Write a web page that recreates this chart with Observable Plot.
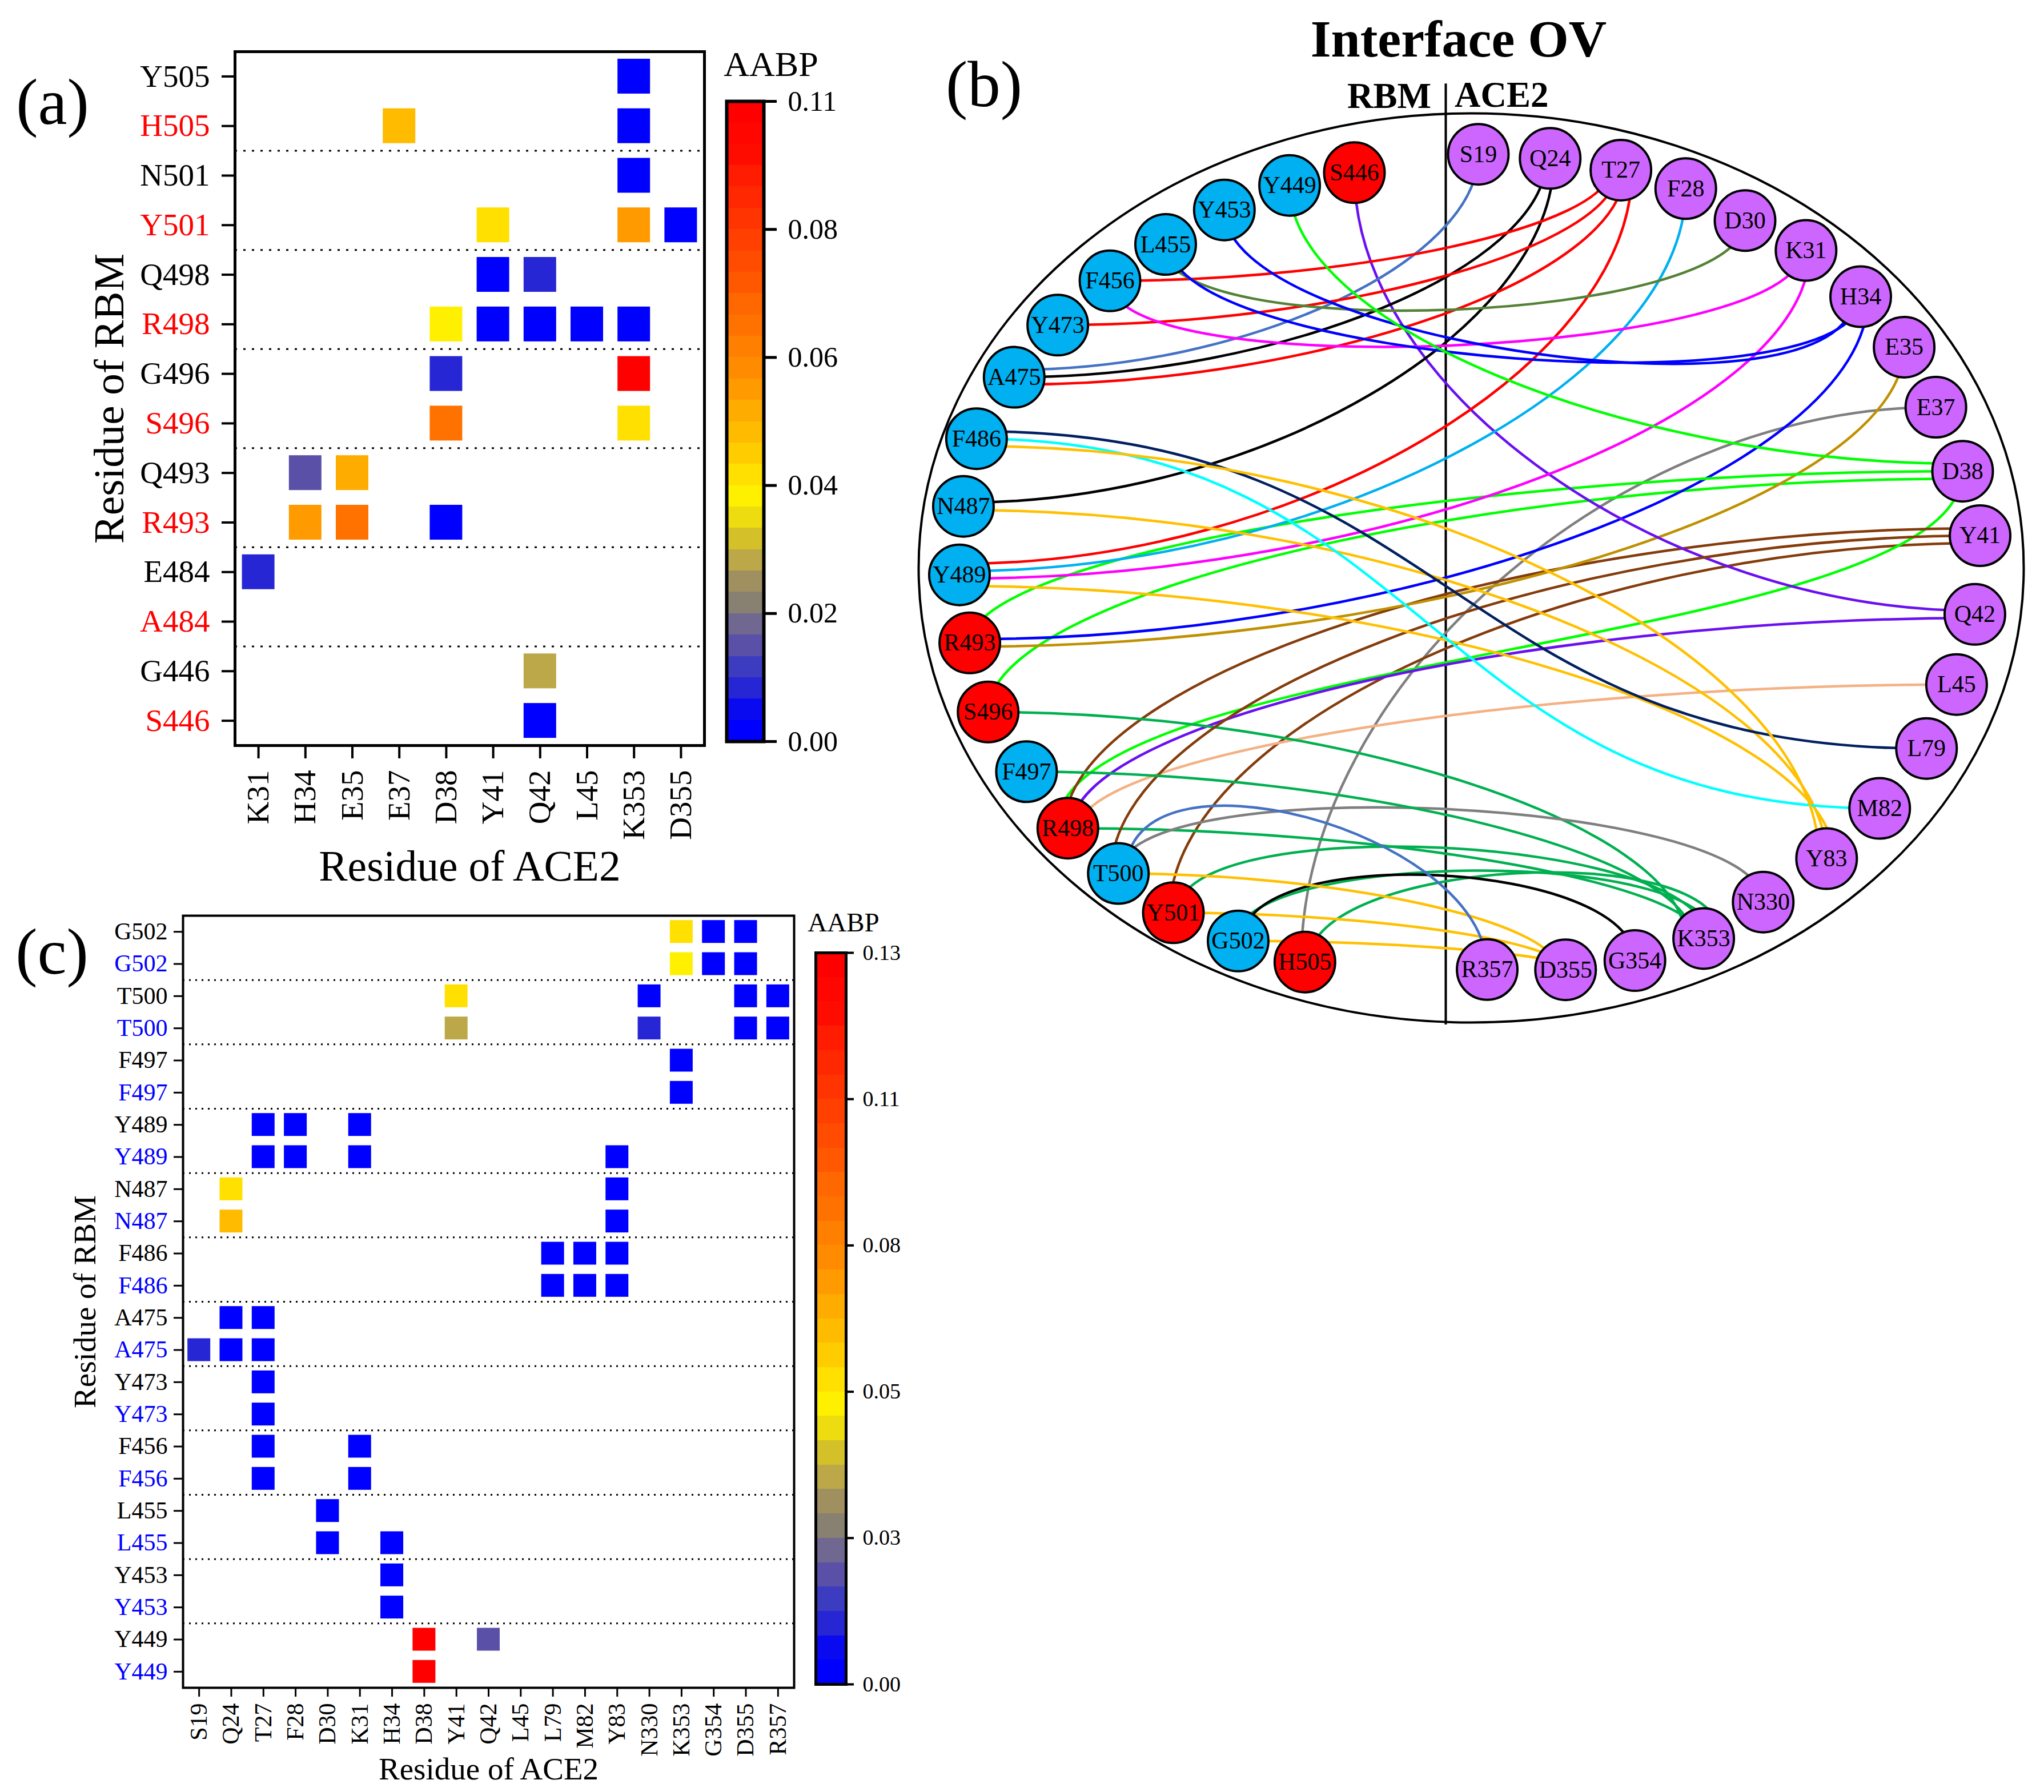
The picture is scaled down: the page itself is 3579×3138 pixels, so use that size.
<!DOCTYPE html>
<html>
<head>
<meta charset="utf-8">
<script src="https://cdn.jsdelivr.net/npm/d3@7"></script>
<script src="https://cdn.jsdelivr.net/npm/@observablehq/plot@0.6"></script>
<style>
html,body{margin:0;padding:0;background:#fff;width:3579px;height:3138px;overflow:hidden}
#page{position:relative;width:3579px;height:3138px;font-family:"Liberation Serif",serif}
.p{position:absolute}
.t{position:absolute;white-space:nowrap;line-height:1;color:#000}
</style>
</head>
<body>
<div id="page"></div>
<script>
// ---------- palette shared by the two heat maps (bottom to top of the colour bar)
const bandColors = ["#0000ff","#0a0af0","#2626d4","#3c3cc0","#5a50a8","#706890","#888070","#a09060","#bca848","#d4c028",
  "#ecdc10","#fff000","#ffe000","#ffcc00","#ffbb00","#ffac00","#ff9a00","#ff8c00","#ff8000","#ff7200",
  "#ff6800","#ff5800","#ff4c00","#ff4000","#ff3400","#ff2800","#ff1c00","#ff0c00","#ff0600","#ff0000"];

// ---------- panel (a)
const colsA = ["K31","H34","E35","E37","D38","Y41","Q42","L45","K353","D355"];
const rowsA = ["Y505","H505","N501","Y501","Q498","R498","G496","S496","Q493","R493","E484","A484","G446","S446"];
const rowsAMutant = ["H505","Y501","R498","S496","R493","A484","S446"];
const rowsAWild = ["Y505","N501","Q498","G496","Q493","E484","G446"];
const sepsA = ["H505","Y501","R498","S496","R493","A484"];
const cellsA = [
  ["Y505","K353",.002],["H505","E37",.053],["H505","K353",.002],["N501","K353",.002],
  ["Y501","Y41",.046],["Y501","K353",.06],["Y501","D355",.002],
  ["Q498","Y41",.002],["Q498","Q42",.009],
  ["R498","D38",.042],["R498","Y41",.002],["R498","Q42",.002],["R498","L45",.002],["R498","K353",.002],
  ["G496","D38",.009],["G496","K353",.108],["S496","D38",.073],["S496","K353",.046],
  ["Q493","H34",.0165],["Q493","E35",.057],["R493","H34",.06],["R493","E35",.071],["R493","D38",.002],
  ["E484","K31",.009],["G446","Q42",.031],["S446","Q42",.002]
];
const maxA = .11;
const barTicksA = [0,.022,.044,.066,.088,.11];
const barLabelsA = ["0.00","0.02","0.04","0.06","0.08","0.11"];

// ---------- panel (c)
const colsC = ["S19","Q24","T27","F28","D30","K31","H34","D38","Y41","Q42","L45","L79","M82","Y83","N330","K353","G354","D355","R357"];
const residuesC = ["G502","T500","F497","Y489","N487","F486","A475","Y473","F456","L455","Y453","Y449"];
const cellsCWild = [
  ["G502","K353",.054],["G502","G354",.002],["G502","D355",.002],
  ["T500","Y41",.054],["T500","N330",.002],["T500","D355",.002],["T500","R357",.002],
  ["F497","K353",.002],
  ["Y489","T27",.002],["Y489","F28",.002],["Y489","K31",.002],
  ["N487","Q24",.054],["N487","Y83",.002],
  ["F486","L79",.002],["F486","M82",.002],["F486","Y83",.002],
  ["A475","Q24",.002],["A475","T27",.002],
  ["Y473","T27",.002],["F456","T27",.002],["F456","K31",.002],
  ["L455","D30",.002],["Y453","H34",.002],["Y449","D38",.128],["Y449","Q42",.02]
];
const cellsCVariant = [
  ["G502","K353",.05],["G502","G354",.002],["G502","D355",.002],
  ["T500","Y41",.037],["T500","N330",.011],["T500","D355",.002],["T500","R357",.002],
  ["F497","K353",.002],
  ["Y489","T27",.002],["Y489","F28",.002],["Y489","K31",.002],["Y489","Y83",.002],
  ["N487","Q24",.063],["N487","Y83",.002],
  ["F486","L79",.002],["F486","M82",.002],["F486","Y83",.002],
  ["A475","S19",.011],["A475","Q24",.002],["A475","T27",.002],
  ["Y473","T27",.002],["F456","T27",.002],["F456","K31",.002],
  ["L455","D30",.002],["L455","H34",.002],["Y453","H34",.002],["Y449","D38",.128]
];
const maxC = .13;
const barTicksC = [0,.026,.052,.078,.104,.13];
const barLabelsC = ["0.00","0.03","0.05","0.08","0.11","0.13"];

// ---------- panel (b): where each residue sits around the ring (degrees and radial factor)
const rbmNames  = ["S446","Y449","Y453","L455","F456","Y473","A475","F486","N487","Y489","R493","S496","F497","R498","T500","Y501","G502","H505"];
const rbmAngles = [103.5,111.1,119.3,127.6,135.8,144.4,153.2,162.7,172.2,181.8,191.4,201.2,210.5,219.5,227.8,235.8,243.8,251.6];
const rbmRadii  = [.982,.99,.99,.983,.989,.998,1.005,1.017,1.006,1.005,1.004,1.017,1.013,1.026,1.031,1.04,1.036,1.034];
const ace2Names  = ["S19","Q24","T27","F28","D30","K31","H34","E35","E37","D38","Y41","Q42","L45","L79","M82","Y83","N330","K353","G354","D355","R357"];
const ace2Angles = [89.2,81.1,73,65.3,57.3,49.3,40.4,31.8,22.6,13,3.7,-7.4,-17.5,-27.1,-37,-46.2,-55.5,-63.7,-71.8,-79.5,-88.2];
const ace2Radii  = [1,1.002,1.005,1.008,.995,1.008,1.004,1,.988,.99,1.001,.997,.999,1.004,1.004,1.008,1.012,1.03,1.029,1.017,1];
const ace2Links  = ["#4472c4","#000000","#ff0000","#00b0f0","#548235","#ff00ff","#0000ff","#bf9000","#7f7f7f","#00ff00","#843c0c","#6a10f0","#f4b183","#002060","#00ffff","#ffc000","#7f7f7f","#00b050","#000000","#ffc000","#4472c4"];
const linkShapes = {"R493-D38":"vh","S496-D38":"vh","R498-D38":"vv","F486-L79":"hh","F486-M82":"hh","T500-R357":"arc","G502-D355":"hv","Y501-D355":"hv","T500-D355":"hv"};

// ---------- helpers
const page = document.getElementById("page");
const serif = '"Liberation Serif",serif';
function place(node,left,top){const d=document.createElement("div");d.className="p";d.style.left=left+"px";d.style.top=top+"px";d.appendChild(node);page.appendChild(d);}
function label(s,cx,cy,size,opt={}){
  const d=document.createElement("div");d.className="t";d.textContent=s;
  d.style.fontSize=size+"px";d.style.left=cx+"px";d.style.top=cy+"px";
  if(opt.bold)d.style.fontWeight="bold";
  const ax=opt.anchor==="end"?"-100%":opt.anchor==="start"?"0":"-50%";
  d.style.transform=`translate(${ax},-50%)`;
  page.appendChild(d);
}
const svgStyle={background:"none",maxWidth:"none",fontFamily:serif,color:"#000"};
const scaleOf=max=>({type:"threshold",domain:d3.range(1,bandColors.length).map(i=>i*max/bandColors.length),range:bandColors});

function heat({cells,cols,rows,seps,max,w,h,left,top,right,bottom,fontTick,fontTitle,cellW,cellH,tickSize,padY,padX,strokeW,dyTitle,dxTitle,dash,groups,fmt}){
  const stepY=(bottom-top)/rows.length, stepX=(right-left)/cols.length;
  return Plot.plot({
    width:w,height:h,marginLeft:left,marginTop:top,marginRight:w-right,marginBottom:h-bottom,style:svgStyle,
    x:{domain:cols,padding:0,round:false,axis:null},
    y:{domain:rows,padding:0,round:false,axis:null},
    color:scaleOf(max),
    marks:[
      Plot.cell(cells,{x:d=>d[1],y:d=>d[0],fill:d=>d[2],
        insetLeft:(stepX-cellW)/2,insetRight:(stepX-cellW)/2,insetTop:(stepY-cellH)/2,insetBottom:(stepY-cellH)/2}),
      Plot.ruleY(seps,{dy:stepY/2,stroke:"#000",strokeWidth:3,strokeDasharray:dash}),
      Plot.frame({stroke:"#000",strokeWidth:strokeW}),
      Plot.axisX(cols,{anchor:"bottom",tickRotate:-90,tickSize,tickPadding:padX,fontSize:fontTick,strokeWidth:strokeW-1,label:null,fontFamily:serif,fill:"#000"}),
      ...groups.map(g=>Plot.axisY(g.keys,{anchor:"left",tickSize,tickPadding:padY,fontSize:fontTick,strokeWidth:strokeW-1,stroke:"#000",fill:g.color,label:null,fontFamily:serif,tickFormat:fmt})),
      Plot.text(["Residue of ACE2"],{frameAnchor:"bottom",dy:dyTitle,fontSize:fontTitle[0],fontFamily:serif,textAnchor:"middle",lineAnchor:"middle",fill:"#000"}),
      Plot.text(["Residue of RBM"],{frameAnchor:"left",dx:dxTitle,rotate:-90,fontSize:fontTitle[1],fontFamily:serif,textAnchor:"middle",lineAnchor:"middle",fill:"#000"})
    ]
  });
}

const barPad=40;
function colorbar({max,ticks,labels,barW,barH,tickSize,pad,font,strokeW}){
  const n=bandColors.length;
  const bands=d3.range(n).map(i=>({y1:i*max/n,y2:(i+1)*max/n,v:(i+.5)*max/n}));
  return Plot.plot({
    width:barW+barPad+170,height:barH+2*barPad,marginLeft:barPad,marginRight:170,marginTop:barPad,marginBottom:barPad,style:svgStyle,
    x:{domain:[0,1],axis:null},
    y:{domain:[0,max],axis:null},
    color:scaleOf(max),
    marks:[
      Plot.rect(bands,{x1:0,x2:1,y1:"y1",y2:"y2",fill:"v",shapeRendering:"crispEdges"}),
      Plot.frame({stroke:"#000",strokeWidth:strokeW}),
      Plot.axisY(ticks,{anchor:"right",tickSize,tickPadding:pad,fontSize:font,fontFamily:serif,strokeWidth:strokeW-1,label:null,fill:"#000",
        tickFormat:d=>labels[ticks.indexOf(d)]})
    ]
  });
}

// ---------- draw (a)
place(heat({cells:cellsA,cols:colsA,rows:rowsA,seps:sepsA,max:maxA,w:1250,h:1600,left:411,top:90,right:1233,bottom:1305,
  fontTick:55,fontTitle:[75.5,75],cellW:57,cellH:61,tickSize:23,padY:21,padX:20,strokeW:5,dyTitle:212,dxTitle:-220,dash:"4,11",
  groups:[{keys:rowsAWild,color:"#000"},{keys:rowsAMutant,color:"#ff0000"}],fmt:d=>d}),0,0);
place(colorbar({max:maxA,ticks:barTicksA,labels:barLabelsA,barW:65,barH:1121,tickSize:22,pad:20,font:50,strokeW:6}),1272-barPad,177-barPad);
label("AABP",1350,112,62);
label("(a)",92,178,115);

// ---------- draw (c)
const keyW=r=>r+" wild", keyV=r=>r+" variant";
const rowsC=residuesC.flatMap(r=>[keyW(r),keyV(r)]);
const cellsC=[...cellsCWild.map(d=>[keyW(d[0]),d[1],d[2]]),...cellsCVariant.map(d=>[keyV(d[0]),d[1],d[2]])];
place(heat({cells:cellsC,cols:colsC,rows:rowsC,seps:residuesC.slice(0,-1).map(keyV),max:maxC,w:1400,h:3138-1500,left:320,top:103,right:1390,bottom:1455,
  fontTick:42,fontTitle:[55,55],cellW:40,cellH:40,tickSize:16,padY:11,padX:11,strokeW:4,dyTitle:143,dxTitle:-171,dash:"3,8",
  groups:[{keys:residuesC.map(keyW),color:"#000"},{keys:residuesC.map(keyV),color:"#0000ff"}],fmt:d=>d.split(" ")[0]}),0,1500);
place(colorbar({max:maxC,ticks:barTicksC,labels:barLabelsC,barW:53,barH:1281,tickSize:13,pad:16,font:38,strokeW:5}),1428-barPad,1668-barPad);
label("AABP",1477,1615,47);
label("(c)",91,1666,115);

// ---------- draw (b)
const ringX=.922, ringY=.897, ringShift=.013, rad=a=>a*Math.PI/180;
const nodeOf=(name,angle,radius,side,i)=>({name,side,angle,i,x:radius*ringX*Math.cos(rad(angle)),y:ringShift+radius*ringY*Math.sin(rad(angle))});
const nodes=[...rbmNames.map((n,i)=>nodeOf(n,rbmAngles[i],rbmRadii[i],"rbm",i)),...ace2Names.map((n,i)=>nodeOf(n,ace2Angles[i],ace2Radii[i],"ace2",i))];
const byName=new Map(nodes.map(n=>[n.side+n.name,n]));
const mutated=new Set(rowsAMutant);
const fillOf=n=>n.side==="ace2"?"#cc66ff":mutated.has(n.name)?"#ff0000":"#00b0f0";
const pairs=[...cellsA.filter(d=>mutated.has(d[0])).map(d=>[d[0],d[1]]),...cellsCVariant.map(d=>[d[0],d[1]])];
const pxX=967.5,pxY=796;
const links=pairs.map(([r,c])=>{
  const a=byName.get("rbm"+r),b=byName.get("ace2"+c);
  const key=r+"-"+c;
  let shape=linkShapes[key];
  if(!shape){
    const ratio=Math.abs(b.y-a.y)*pxY/(Math.abs(b.x-a.x)*pxX);
    if(a.y*b.y>0&&ratio<.15) shape="arc";
    else shape=Math.hypot(a.x,b.y)<Math.hypot(b.x,a.y)?"vh":"hv";
  }
  const tan={arc:["v","v"],vh:["v","h"],hv:["h","v"],hh:["h","h"],vv:["v","v"]}[shape];
  return {key,a,b,shape,tan,color:ace2Links[b.i],ax:a.x,ay:a.y,bx:b.x,by:b.y};
});
// spread the ends that meet at one residue
const ends=new Map();
links.forEach(l=>{[["a","b",0],["b","a",1]].forEach(([me,other,t])=>{
  const k=l[me].side+l[me].name+l.tan[t];
  if(!ends.has(k))ends.set(k,[]);
  ends.get(k).push({l,me,other,t});
});});
const gap=13;
ends.forEach(list=>{
  list.sort((p,q)=>q.l[q.other].y-p.l[p.other].y);
  list.forEach((e,i)=>{
    const off=(i-(list.length-1)/2)*gap;
    if(e.l.tan[e.t]==="h") e.l[e.me==="a"?"ay":"by"]-=off/pxY;
    else e.l[e.me==="a"?"ax":"bx"]+=off/pxX;
  });
});
const linkPoints=links.flatMap(l=>{
  const A=[l.ax,l.ay],B=[l.bx,l.by];let C1,C2;
  if(l.shape==="vh"||l.shape==="hv"){
    const k=.5,C=l.shape==="vh"?[A[0],B[1]]:[B[0],A[1]];
    C1=[A[0]+k*(C[0]-A[0]),A[1]+k*(C[1]-A[1])];
    C2=[B[0]+k*(C[0]-B[0]),B[1]+k*(C[1]-B[1])];
  }else if(l.shape==="hh"){
    const h=.5*(B[0]-A[0]);C1=[A[0]+h,A[1]];C2=[B[0]-h,B[1]];
  }else if(l.shape==="vv"){
    const h=.5*(B[1]-A[1]);C1=[A[0],A[1]+h];C2=[B[0],B[1]-h];
  }else{
    const h=(.2+.5*Math.abs(B[1]-A[1]))*(A[1]>0?-1:1);C1=[A[0],A[1]+h];C2=[B[0],B[1]+h];
  }
  return [A,C1,C2,B].map(p=>({id:l.key,color:l.color,x:p[0],y:p[1]}));
});
function cubic(ctx){let p=[];return{areaStart(){},areaEnd(){},lineStart(){p=[];},point(x,y){p.push([x,y]);},
  lineEnd(){ctx.moveTo(p[0][0],p[0][1]);ctx.bezierCurveTo(p[1][0],p[1][1],p[2][0],p[2][1],p[3][0],p[3][1]);}};}
const dividerAt=-.046;
place(Plot.plot({
  width:1989,height:1830,marginLeft:18,marginRight:36,marginTop:198,marginBottom:40,style:svgStyle,
  x:{domain:[-1,1],axis:null},y:{domain:[-1,1],axis:null},color:{type:"identity"},
  marks:[
    Plot.frame({rx:967.5,ry:796,stroke:"#000",strokeWidth:4}),
    Plot.ruleX([dividerAt],{y1:-1.005,y2:1.065,stroke:"#000",strokeWidth:4}),
    Plot.line(linkPoints,{x:"x",y:"y",z:"id",stroke:"color",strokeWidth:4.5,curve:cubic}),
    Plot.dot(nodes,{x:"x",y:"y",r:53,fill:fillOf,stroke:"#000",strokeWidth:4}),
    Plot.text(nodes,{x:"x",y:"y",text:"name",fontSize:42,fontFamily:serif,fill:"#000"})
  ]
}),1590,0);
label("Interface OV",2554,68,92,{bold:true});
label("RBM",2506,168,63,{bold:true,anchor:"end"});
label("ACE2",2547,166,63,{bold:true,anchor:"start"});
label("(b)",1723,147,115);
</script>
</body>
</html>
